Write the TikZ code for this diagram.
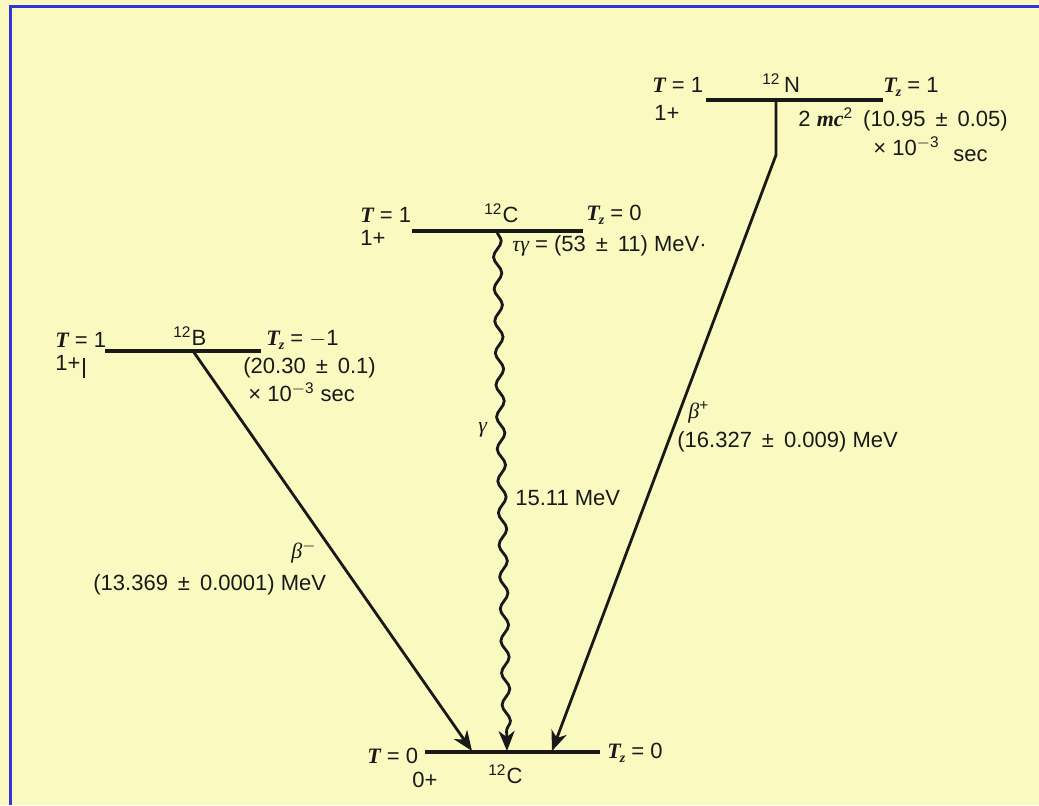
\documentclass[tikz,border=0pt]{standalone}
\usepackage{fontspec}
\setmainfont{Liberation Sans}
\newfontfamily\serif{Liberation Serif}
\usetikzlibrary{arrows.meta,decorations.pathmorphing}
\definecolor{bg}{RGB}{250,250,192}
\definecolor{frame}{RGB}{52,52,212}
\definecolor{ink}{RGB}{25,25,25}
\newcommand{\Ti}{{\serif\bfseries\itshape T}}
\newcommand{\Tzed}{{\serif\bfseries\itshape T\kern-0.5pt\raisebox{-2pt}{\scriptsize z}}}
\newcommand{\pmx}{\hspace{5pt}±\hspace{5pt}}
\newcommand{\gk}[1]{{\serif\itshape #1}}
\begin{document}
\begin{tikzpicture}[x=0.5pt,y=-0.5pt,
  font=\fontsize{11}{13}\selectfont,
  lbl/.style={anchor=base west, inner sep=0pt, text=ink},
  level/.style={line width=2.3pt, draw=ink},
  decay/.style={line width=1.4pt, draw=ink, -{Stealth[length=10pt,width=8pt,inset=3pt]}},
  wave/.style={decay, decorate, decoration={snake, amplitude=2pt, segment length=16pt, post length=10pt}}]
\fill[bg] (0,0) rectangle (1039,805);
\useasboundingbox (0,0) rectangle (1039,805);
\draw[frame, line width=1.5pt] (10,805) -- (10,6) -- (1039,6);

% level end points
\coordinate (Nl) at (706,100); \coordinate (Nr) at (883,100);
\coordinate (Cl) at (412,231); \coordinate (Cr) at (583,231);
\coordinate (Bl) at (105,351); \coordinate (Br) at (261,351);
\coordinate (Gl) at (425,752); \coordinate (Gr) at (600,752);
% connector points
\coordinate (Nd) at (776,100); \coordinate (Nk) at (776,155);
\coordinate (Cd) at (497,231);
\coordinate (Bd) at (193,351);
\coordinate (G1) at (472,751); \coordinate (G2) at (507,751); \coordinate (G3) at (552,751);

\draw[level] (Nl) -- (Nr);
\draw[level] (Cl) -- (Cr);
\draw[level] (Bl) -- (Br);
\draw[level] (Gl) -- (Gr);

\draw[decay] (Nd) -- (Nk) -- (G3);
\draw[wave] (Cd) -- (G2);
\draw[decay] (Bd) -- (G1);

% 12N level
\node[lbl] (nT) at (652,92) {\Ti{} = 1};
\node[lbl] (nN) at (762,92) {\textsuperscript{12}\,N};
\node[lbl] (nTz) at (883,92) {\Tzed{} = 1};
\node[lbl] (nJ) at (654,120) {1+};
\node[lbl] (nW) at (798,126) {2 {\serif\bfseries\itshape mc}\textsuperscript{2}\hspace{5pt}(10.95\pmx 0.05)};
\node[lbl] (nX) at (873,155) {× 10\textsuperscript{$-$3}};
\node[lbl] (nS) at (953,161) {sec};

% 12C excited level
\node[lbl] (cT) at (360,222) {\Ti{} = 1};
\node[lbl] (cC) at (484,222) {\textsuperscript{12}C};
\node[lbl] (cTz) at (586,220) {\Tzed{} = 0};
\node[lbl] (cJ) at (360,245) {1+};
\node[lbl] (cW) at (512,251) {\gk{τγ} = (53\pmx 11) MeV\textperiodcentered};

% 12B level
\node[lbl] (bT) at (55,347) {\Ti{} = 1};
\node[lbl] (bB) at (173,345) {\textsuperscript{12}B};
\node[lbl] (bTz) at (266,345) {\Tzed{} = $-$1};
\node[lbl] (bJ) at (55,370) {1+};
\draw[ink, line width=0.8pt] (84,358) -- (84,378);
\node[lbl] (bW) at (243,373) {(20.30\pmx 0.1)};
\node[lbl] (bX) at (248,401) {× 10\textsuperscript{$-$3} sec};

% transition labels
\node[lbl] (gG) at (478,432) {\gk{γ}};
\node[lbl] (gE) at (515,505) {15.11 MeV};
\node[lbl] (mB) at (291,558) {\gk{β}\textsuperscript{$-$}};
\node[lbl] (mE) at (93,590) {(13.369\pmx 0.0001) MeV};
\node[lbl] (pB) at (688,418) {\gk{β}\textsuperscript{+}};
\node[lbl] (pE) at (677,447) {(16.327\pmx 0.009) MeV};

% ground level
\node[lbl] (gT) at (367,763) {\Ti{} = 0};
\node[lbl] (gTz) at (607,758) {\Tzed{} = 0};
\node[lbl] (gJ) at (412,787) {0+};
\node[lbl] (gC) at (488,783) {\textsuperscript{12}C};
\end{tikzpicture}
\end{document}
